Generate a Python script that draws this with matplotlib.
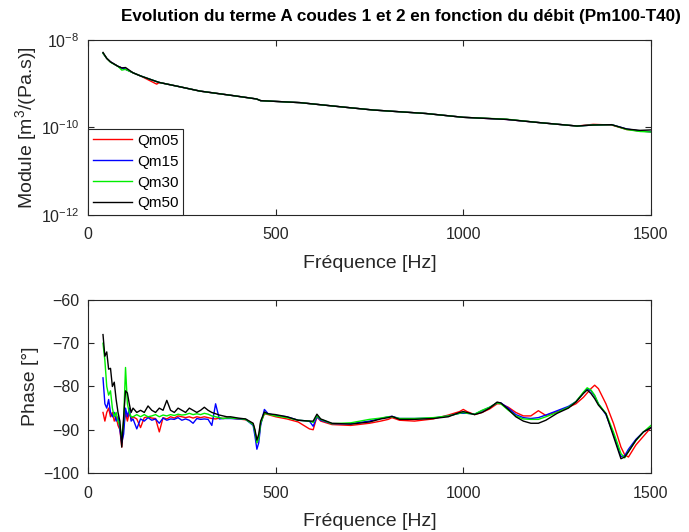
import matplotlib
matplotlib.use("Agg")
import matplotlib.pyplot as plt
from matplotlib.ticker import NullLocator, LogFormatterSciNotation

plt.rcParams["font.family"] = ["Liberation Sans", "DejaVu Sans"]
plt.rcParams["mathtext.fontset"] = "custom"
plt.rcParams["mathtext.rm"] = "Liberation Sans"
plt.rcParams["mathtext.it"] = "Liberation Sans:italic"

### DATA ###
series = ["Qm05", "Qm15", "Qm30", "Qm50"]
colors = ["#ff0000", "#0000ff", "#00ee00", "#000000"]

# Module [m3/(Pa.s)]
freq_mod = [40, 50, 60, 80, 90, 100, 120, 140, 183, 190, 240, 298, 387, 449, 460,
            565, 689, 760, 900, 1000, 1115, 1204, 1303, 1346, 1395, 1435, 1471, 1500]
mod_qm05 = [5.0e-9, 3.8e-9, 3.16e-9, 2.5e-9, 2.3e-9, 2.14e-9, 1.78e-9, 1.51e-9, 0.98e-9,
            1.07e-9, 8.7e-10, 6.8e-10, 5.35e-10, 4.49e-10, 4.11e-10,
            3.70e-10, 2.88e-10, 2.51e-10, 2.09e-10, 1.71e-10, 1.53e-10, 1.29e-10, 1.08e-10,
            1.18e-10, 1.14e-10, 9.0e-11, 8.3e-11, 8.0e-11]
mod_qm15 = [5.0e-9, 3.8e-9, 3.16e-9, 2.5e-9, 2.3e-9, 2.14e-9, 1.78e-9, 1.51e-9, 1.12e-9,
            1.07e-9, 8.7e-10, 6.8e-10, 5.35e-10, 4.49e-10, 4.11e-10,
            3.70e-10, 2.88e-10, 2.51e-10, 2.09e-10, 1.71e-10, 1.53e-10, 1.29e-10, 1.08e-10,
            1.14e-10, 1.16e-10, 9.25e-11, 8.3e-11, 8.0e-11]
mod_qm30 = [5.0e-9, 3.8e-9, 3.1e-9, 2.5e-9, 2.05e-9, 2.14e-9, 1.78e-9, 1.51e-9, 1.12e-9,
            1.07e-9, 8.7e-10, 6.8e-10, 5.35e-10, 4.49e-10, 4.11e-10,
            3.70e-10, 2.88e-10, 2.51e-10, 2.09e-10, 1.71e-10, 1.55e-10, 1.29e-10, 1.08e-10,
            1.14e-10, 1.16e-10, 9.0e-11, 8.1e-11, 7.9e-11]
mod_qm50 = [5.2e-9, 3.8e-9, 3.16e-9, 2.5e-9, 2.3e-9, 2.35e-9, 1.78e-9, 1.51e-9, 1.12e-9,
            1.07e-9, 8.7e-10, 6.8e-10, 5.35e-10, 4.49e-10, 4.11e-10,
            3.70e-10, 2.88e-10, 2.51e-10, 2.09e-10, 1.71e-10, 1.53e-10, 1.29e-10, 1.08e-10,
            1.14e-10, 1.16e-10, 9.25e-11, 8.6e-11, 8.8e-11]

# Phase [deg]
freq_ph = [40, 45, 50, 55, 60, 65, 70, 75, 80, 85, 90, 95, 100, 105, 110, 115,
           120, 130, 140, 150, 160, 170, 180, 190, 200, 210, 220, 230, 240, 250,
           260, 270, 280, 290, 300, 310, 320, 330, 340, 350, 360, 370, 380,
           400, 420, 440, 445, 450, 455, 460, 470, 480,
           500, 530, 560, 590, 600, 610, 620, 650,
           700, 750, 780, 800, 810, 830, 870, 920, 960, 990,
           1000, 1010, 1030, 1050, 1070, 1090, 1100, 1120, 1140, 1160, 1180, 1200,
           1220, 1250, 1280,
           1300, 1320, 1330, 1340, 1350, 1360, 1380, 1400, 1420, 1430, 1440, 1460,
           1480, 1500]
ph_qm05 = [-86, -88, -86, -85, -87, -86, -88, -87, -89, -90, -94, -89, -86, -88, -86, -87.5,
           -87, -87.5, -89.5, -87.2, -87, -87.3, -87.4, -90.5, -87.2, -87.5, -87, -87.3,
           -86.8, -87, -87.2, -87, -87.3, -87, -87.2, -87, -87.2, -87.4, -87.5, -87.3,
           -87.4, -87.3, -87.3,
           -87.5, -87.7, -88.6, -90.5, -93, -92, -88.5, -86.3, -86.5,
           -87, -87.5, -88.2, -89.8, -90, -87, -88, -88.8,
           -89, -88.5, -88, -87.6, -87.2, -87.8, -88, -87.5, -86.6, -85.8,
           -85.3, -85.8, -86.5, -86, -85.2, -84, -84, -84.8, -86, -86.8, -86.8, -85.6,
           -86.7, -85.8, -84.8,
           -84, -82.5, -81.5, -80.5, -79.7, -80.5, -84, -88.5, -94, -95.8, -96.3, -93.5,
           -91.5, -89.5]
ph_qm15 = [-78, -84, -85, -83, -86, -87, -86, -88, -87, -90, -93, -91, -85, -87, -85, -88,
           -87.5, -89.8, -87.5, -88, -87.2, -87.8, -87.5, -88.5, -87.3, -87.8, -87.5, -87.6,
           -87.2, -87.8, -87.5, -87.8, -88.5, -87.4, -87.6, -87.5, -87.6, -89, -84, -87.5,
           -87.4, -87.4, -87.4,
           -87.5, -87.6, -89, -91.5, -94.5, -93, -89, -85.3, -86.3,
           -86.7, -87, -87.8, -88, -89.2, -87, -87.8, -88.6,
           -88.6, -88, -87.4, -87, -86.9, -87.4, -87.4, -87.3, -86.8, -86.2,
           -86.2, -86.2, -86.4, -85.6, -84.8, -83.8, -83.8, -85, -86.5, -87.2, -87.4, -87.2,
           -86.6, -85.6, -84.6,
           -83.5, -81.5, -80.5, -81, -82.2, -84, -86.5, -91, -96.2, -96, -94.5, -92.2,
           -90.5, -89.5]
ph_qm30 = [-70, -74, -80, -82, -81, -85, -87, -86, -88, -89, -92, -88, -75.6, -84, -86, -87,
           -87, -86.5, -87, -86.5, -87, -86.8, -86.5, -87, -86.6, -86.8, -86.5, -86.7,
           -86.4, -86.6, -86.5, -86.2, -86.5, -86.3, -86.5, -86.2, -86.4, -86.8, -87, -87.2,
           -87.4, -87.3, -87.3,
           -87.4, -87.6, -88.8, -90.5, -93, -92, -88.5, -86.2, -86.4,
           -86.8, -87.2, -87.8, -88, -88.3, -86.8, -87.6, -88.6,
           -88.4, -87.6, -87.3, -87, -87, -87.4, -87.4, -87.2, -86.8, -86.2,
           -86, -86.2, -86.4, -85.5, -84.8, -83.8, -84, -85.5, -86.8, -87.5, -87.6, -87.6,
           -87, -86, -84.8,
           -83.5, -81.3, -80.3, -80.8, -82, -84, -86.2, -90.5, -95.5, -96.5, -95, -92.5,
           -90.5, -89]
ph_qm50 = [-68, -73, -72, -76, -75.8, -80, -79, -83, -86, -88, -94, -87, -81, -81.5, -84, -86,
           -85, -86, -85.5, -86, -84.5, -85.5, -86, -85, -85.5, -83.2, -85.5, -86,
           -85, -85.5, -86, -85, -85.5, -86, -85.5, -84.8, -85.5, -86, -86.3, -86.6,
           -86.8, -87, -87,
           -87.3, -87.5, -88.5, -90, -92.4, -91, -88, -85.9, -86.3,
           -86.5, -87, -87.8, -88, -88, -86.4, -87.5, -88.5,
           -88.7, -88.2, -87.5, -87.2, -86.9, -87.6, -87.6, -87.4, -87, -86,
           -85.8, -86, -86.5, -86, -85, -83.6, -83.8, -85.3, -87, -88, -88.5, -88.5,
           -87.8, -86.2, -85,
           -83.6, -81.6, -80.8, -81.6, -82.8, -84.3, -86.3, -91.5, -96.7, -96.3, -95.1,
           -92.4, -90.5, -89.5]

mods = [mod_qm05, mod_qm15, mod_qm30, mod_qm50]
phases = [ph_qm05, ph_qm15, ph_qm30, ph_qm50]

### FIGURE ###
fig = plt.figure(figsize=(6.89, 5.32), dpi=100)
ax1 = fig.add_axes([0.1277, 0.5959, 0.8171, 0.3289])
ax2 = fig.add_axes([0.1277, 0.1109, 0.8171, 0.3252])

edge = "#262626"
for ax in (ax1, ax2):
    for s in ax.spines.values():
        s.set_color(edge)
        s.set_linewidth(0.8)
    ax.tick_params(direction="in", top=True, right=True, length=4, width=0.8,
                   colors=edge, labelsize=11.5)
    ax.tick_params(axis="x", pad=9)
    ax.tick_params(axis="y", pad=6)
    ax.set_xlim(0, 1500)
    ax.set_xticks([0, 500, 1000, 1500])

# Module
for m, name, c in zip(mods, series, colors):
    ax1.semilogy(freq_mod, m, color=c, lw=1.0, label=name)
ax1.set_ylim(1e-12, 1e-8)
ax1.set_yticks([1e-12, 1e-10, 1e-8])
ax1.yaxis.set_major_formatter(LogFormatterSciNotation())
ax1.yaxis.set_minor_locator(NullLocator())
ax1.set_xlabel("Fréquence [Hz]", fontsize=14, color=edge, labelpad=9)
ax1.set_ylabel("Module [m$^3$/(Pa.s)]", fontsize=14, color=edge, labelpad=1.5)
fig.text(401 / 689, 1 - 17 / 532,
         "Evolution du terme A coudes 1 et 2 en fonction du débit (Pm100-T40)",
         fontsize=12.3, fontweight="bold", ha="center", va="center")
leg = ax1.legend(loc="lower left", fontsize=11, frameon=True, fancybox=False,
                 borderaxespad=0, handlelength=2.6, handletextpad=0.3,
                 labelspacing=0.45, borderpad=0.3)
leg.get_frame().set_edgecolor(edge)
leg.get_frame().set_linewidth(0.8)
leg.get_frame().set_alpha(1)

# Phase
for ph, name, c in zip(phases, series, colors):
    ax2.plot(freq_ph, ph, color=c, lw=1.0, label=name)
ax2.set_ylim(-100, -60)
ax2.set_yticks([-100, -90, -80, -70, -60])
ax2.set_xlabel("Fréquence [Hz]", fontsize=14, color=edge, labelpad=9)
ax2.set_ylabel("Phase [°]", fontsize=14, color=edge, labelpad=3)

plt.savefig("out.png", dpi=100)
